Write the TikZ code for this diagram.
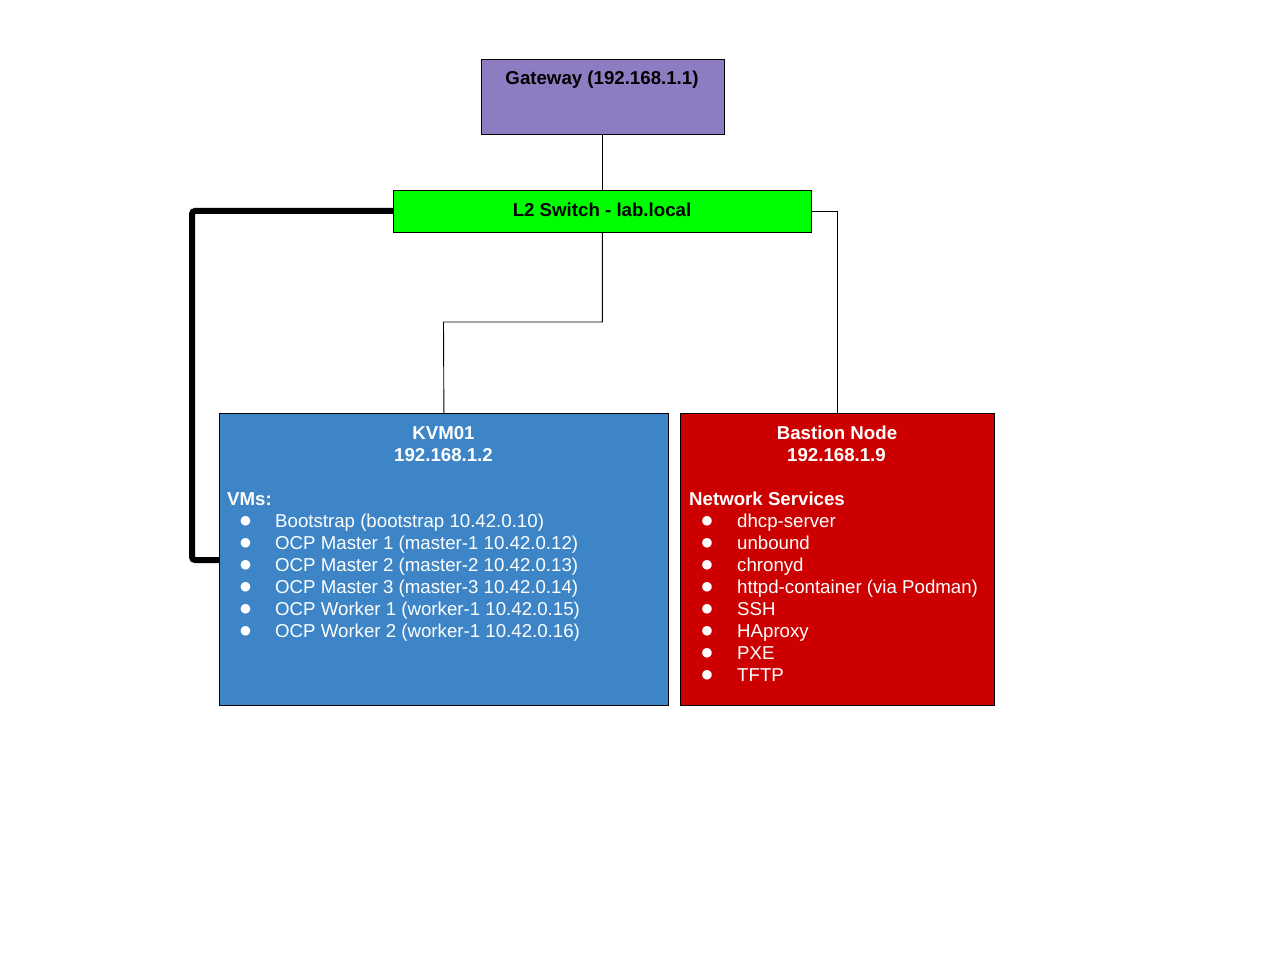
\documentclass[tikz,border=0pt]{standalone}
\usepackage{fontspec}
\setmainfont{Liberation Sans}
\newfontfamily\bulletfont{DejaVu Sans}
\definecolor{gwpurple}{HTML}{8E7CC3}
\definecolor{swgreen}{HTML}{00FF00}
\definecolor{kvmblue}{HTML}{3D85C6}
\definecolor{bastred}{HTML}{CC0000}
\begin{document}
\begin{tikzpicture}[x=1pt,y=-1pt,
  box/.style={draw=black, line width=0.8pt, inner sep=0pt, anchor=north west},
  conn/.style={draw=black, line width=0.9pt},
  thick conn/.style={draw=black, line width=6pt, rounded corners=3pt},
  txt/.style={font=\fontsize{18.67}{22}\selectfont, inner sep=0pt},
  btxt/.style={font=\fontsize{18.67}{22}\selectfont\bfseries, inner sep=0pt},
  wtxt/.style={txt, text=white},
  wbtxt/.style={btxt, text=white},
  bul/.style={font=\bulletfont\fontsize{12.5}{14}\selectfont, text=white, inner sep=0pt}]
\useasboundingbox (0,0) rectangle (1280,960);
\fill[white] (0,0) rectangle (1280,960);
% boxes
\node[box, fill=gwpurple, minimum width=243pt, minimum height=75pt] (gw) at (480.5,59) {};
\node[box, fill=swgreen, minimum width=418pt, minimum height=42pt] (sw) at (393,190) {};
\node[box, fill=kvmblue, minimum width=449pt, minimum height=292pt] (kvm) at (219,413) {};
\node[box, fill=bastred, minimum width=314pt, minimum height=292pt] (bas) at (680,413) {};
% connectors
\coordinate (k2) at (443.5,322);
\draw[conn] (gw.south) -- (sw.north);
\draw[conn] (sw.south) |- (k2) -- (kvm.north);
\draw[conn] (sw.east) -| (bas.north);
\coordinate (t1) at (192,211);
\coordinate (t2) at (192,560);
\coordinate (t3) at (219,560);
\draw[thick conn] (sw.west |- t1) -- (t1) -- (t2) -- (t3);
% texts
\node[btxt, anchor=base] (gwt) at (602,85) {Gateway (192.168.1.1)};
\node[btxt, anchor=base] (swt) at (602,217) {L2 Switch - lab.local};
\node[wbtxt, anchor=base] (kt1) at (443.5,439) {KVM01};
\node[wbtxt, anchor=base] (kt2) at (443.5,461) {192.168.1.2};
\node[wbtxt, anchor=base west] (kvms) at (227,505) {VMs:};
\foreach \t [count=\i] in {Bootstrap (bootstrap 10.42.0.10),
  OCP Master 1 (master-1 10.42.0.12),
  OCP Master 2 (master-2 10.42.0.13),
  OCP Master 3 (master-3 10.42.0.14),
  OCP Worker 1 (worker-1 10.42.0.15),
  OCP Worker 2 (worker-1 10.42.0.16)} {
  \node[bul] (kb\i) at (245.5,499+22*\i) {●};
  \node[wtxt, anchor=base west] (ki\i) at (275,505+22*\i) {\t};
}
\node[wbtxt, anchor=base] (bt1) at (837,439) {Bastion Node};
\node[wbtxt, anchor=base] (bt2) at (836.5,461) {192.168.1.9};
\node[wbtxt, anchor=base west] (bns) at (689,505) {Network Services};
\foreach \t [count=\i] in {dhcp-server, unbound, chronyd,
  httpd-container (via Podman), SSH, HAproxy, PXE, TFTP} {
  \node[bul] (bb\i) at (707,499+22*\i) {●};
  \node[wtxt, anchor=base west] (bi\i) at (737,505+22*\i) {\t};
}
\end{tikzpicture}
\end{document}
